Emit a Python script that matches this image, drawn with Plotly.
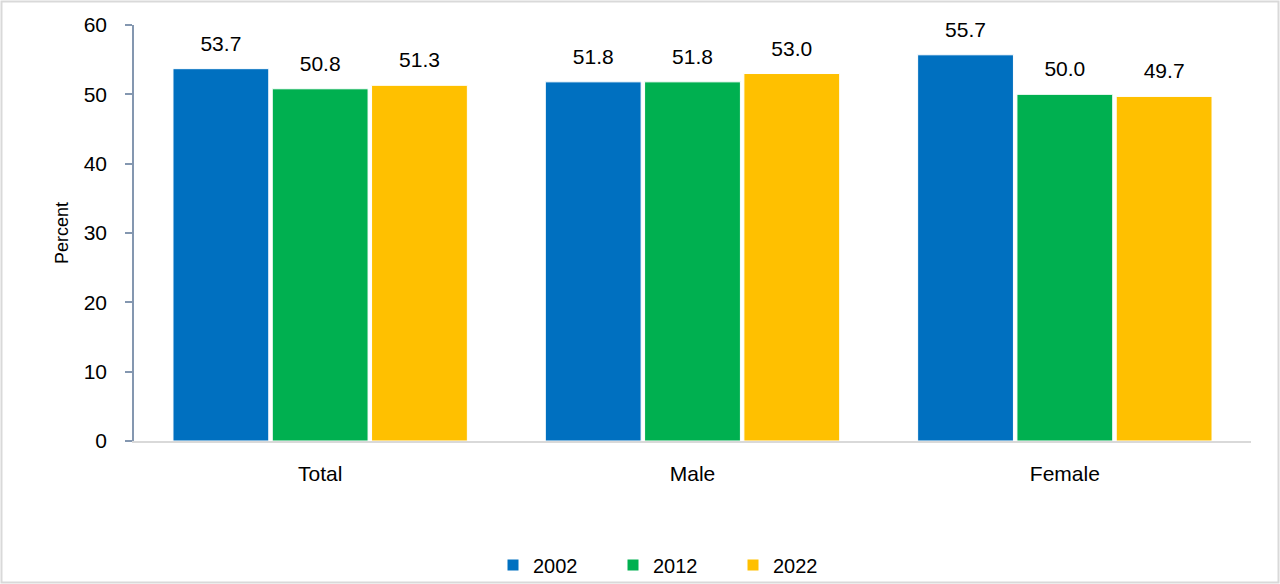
import plotly.graph_objects as go

categories = ["Total", "Male", "Female"]
years = ["2002", "2012", "2022"]
values_2002 = [53.7, 51.8, 55.7]
values_2012 = [50.8, 51.8, 50.0]
values_2022 = [51.3, 53.0, 49.7]
colors = ["#0070C0", "#00B050", "#FFC000"]
y_ticks = [0, 10, 20, 30, 40, 50, 60]

series = [values_2002, values_2012, values_2022]
FONT = "Liberation Sans, Arial, sans-serif"

fig = go.Figure()
for name, vals, col in zip(years, series, colors):
    fig.add_trace(go.Bar(
        x=categories, y=vals, name=name,
        marker=dict(color=col, line=dict(color="white", width=1)),
        text=[f"{v:.1f}" for v in vals],
        texttemplate="<span style='font-size:21px'>%{text}</span><br> ",
        textposition="outside",
        textfont=dict(family=FONT, size=10, color="#000000"),
        cliponaxis=False,
    ))

L, R, T, B = 134, 29, 25, 143
W = 1280 - L - R
H = 584 - T - B

fig.update_layout(
    width=1280, height=584,
    margin=dict(l=L, r=R, t=T, b=B, autoexpand=False),
    paper_bgcolor="white", plot_bgcolor="white",
    barmode="group", bargap=0.2, bargroupgap=0.035,
    font=dict(family=FONT, size=21, color="#000000"),
    showlegend=True,
    legend=dict(
        orientation="h", xref="container", yref="container",
        x=493 / 1280, xanchor="left",
        y=(584 - 565) / 584, yanchor="middle",
        bgcolor="rgba(0,0,0,0)",
        font=dict(family=FONT, size=20, color="#000000"),
        itemwidth=30,
        entrywidth=75, entrywidthmode="pixels",
        itemclick=False, itemdoubleclick=False,
    ),
    xaxis=dict(
        automargin=False,
        showline=True, linecolor="#D9D9D9", linewidth=2,
        ticks="", showgrid=False, ticklabelstandoff=13,
        tickfont=dict(family=FONT, size=21),
    ),
    yaxis=dict(
        automargin=False,
        range=[0, 60], tickvals=y_ticks, showgrid=False, zeroline=False,
        showline=True, linecolor="#8497B0", linewidth=1.5,
        ticks="outside", ticklen=7, tickcolor="#8497B0", tickwidth=1.5,
        ticklabelstandoff=14,
        tickfont=dict(family=FONT, size=21),
        title=dict(text="Percent", font=dict(family=FONT, size=18), standoff=10),
    ),
    shapes=[dict(
        type="rect", xref="paper", yref="paper",
        x0=(1.5 - L) / W, x1=(1278.5 - L) / W,
        y0=(441 - 582.5) / H, y1=(441 - 1.5) / H,
        line=dict(color="#D9D9D9", width=2), fillcolor="rgba(0,0,0,0)",
        layer="below",
    )],
)

fig.write_html(
    "out.html",
    config={"displayModeBar": False},
    post_script="document.body.style.margin='0';document.body.style.padding='0';document.body.style.overflow='hidden';",
)
